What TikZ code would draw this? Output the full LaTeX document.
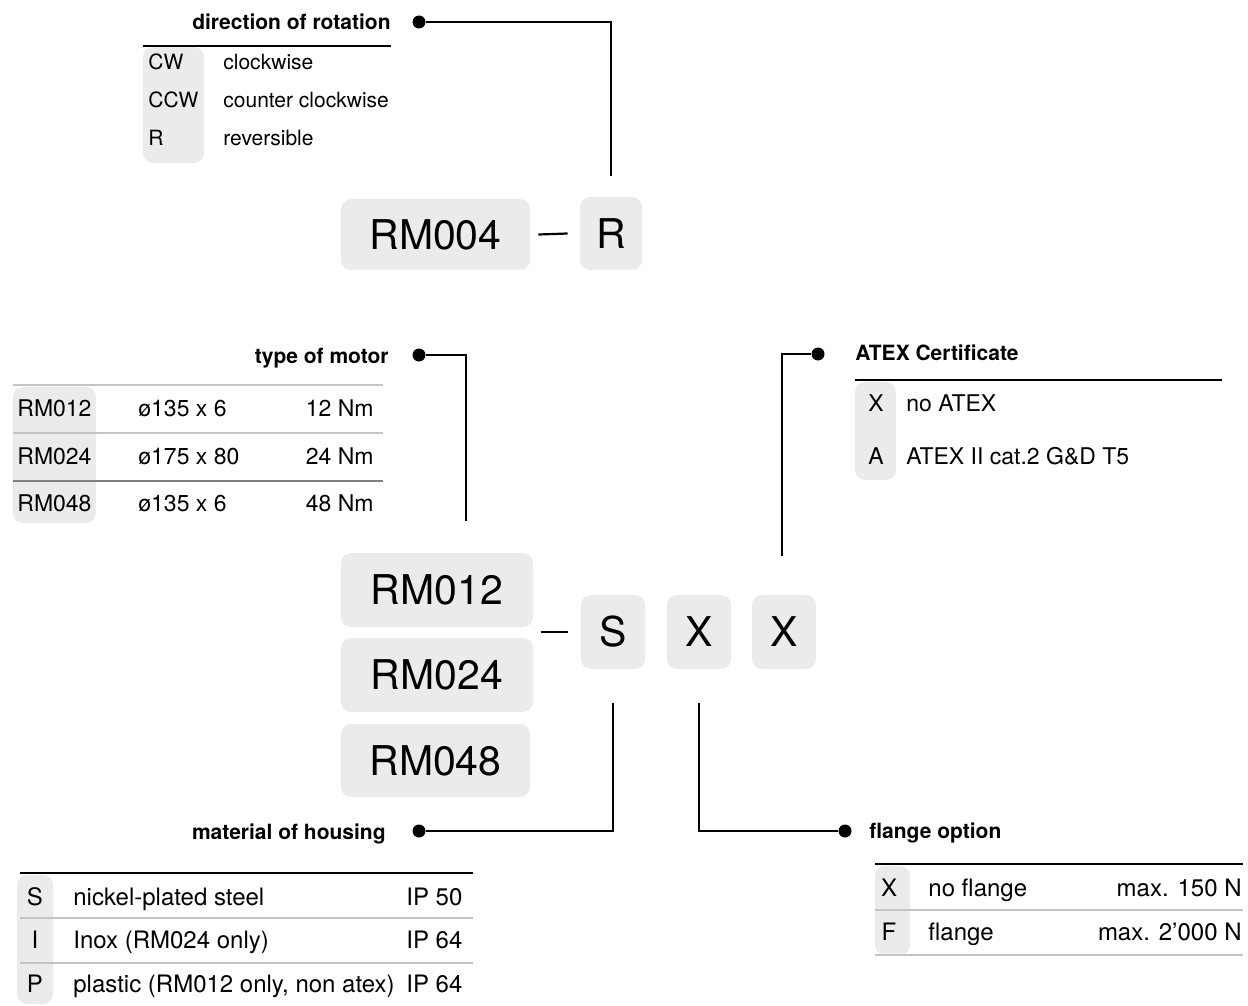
\documentclass[tikz,border=0pt]{standalone}
\usepackage{fontspec}
\setmainfont{TeX Gyre Heros}
\definecolor{grigio}{HTML}{EBEBEB}
\definecolor{riga}{HTML}{C4C4C4}

\begin{document}
\begin{tikzpicture}[x=0.5pt, y=-0.5pt]
  % Stili comuni
  \tikzset{
    casella/.style={fill=grigio, rounded corners=5pt, minimum height=37pt, inner sep=0pt, font=\fontsize{20.5}{24}\selectfont},
    titolo/.style={inner sep=0pt, font=\fontsize{10.5}{12}\selectfont\bfseries},
    voce/.style={inner sep=0pt, font=\fontsize{#1}{#1}\selectfont},
    voce/.default=11.5,
    punto/.style={circle, fill=black, minimum size=6.5pt, inner sep=0pt},
    linea/.style={line width=1.35pt},
    sotto/.style={line width=0.75pt},
    leggera/.style={line width=0.7pt, draw=riga},
  }
  \useasboundingbox (0,0) rectangle (1248,1006);

  % Codice in alto
  \node[casella, minimum width=94.5pt, minimum height=35.5pt] (rm004) at (435.5,234.5) {RM004};
  \node[casella, minimum width=31pt, minimum height=36.5pt] (r) at (611,233.5) {R};
  \draw[line width=1.1pt] ([xshift=4pt]rm004.east) -- ([xshift=-6pt]r.west);

  % Senso di rotazione
  \fill[grigio, rounded corners=5pt] (143,47) rectangle (204,163);
  \draw[sotto] (143,46) -- (391,46);
  \node[titolo, anchor=base east] (tRot) at (391,30) {direction of rotation};
  \foreach \cod/\des [count=\i] in {CW/clockwise, CCW/counter clockwise, R/reversible} {
    \node[voce=10.5, anchor=base west] (rot-c\i) at (148,31.5+38*\i) {\cod};
    \node[voce=10.5, anchor=base west] (rot-d\i) at (223,31.5+38*\i) {\des};
  }
  \node[punto] (pRot) at (419,22) {};
  \draw[linea] (pRot) -| ([yshift=10.5pt]r.north);

  % Tipo di motore
  \fill[grigio, rounded corners=5pt] (13,387) rectangle (96,523);
  \foreach \yy in {385,433} \draw[leggera] (13,\yy) -- (383,\yy);
  \draw[leggera, draw=gray] (13,481) -- (383,481);
  \foreach \cod/\dim/\nm/\yb [count=\i] in {RM012/ø135 x 6/12 Nm/416, RM024/ø175 x 80/24 Nm/464, RM048/ø135 x 6/48 Nm/511} {
    \node[voce, anchor=base west] (mot-c\i) at (17,\yb) {\cod};
    \node[voce, anchor=base west] (mot-d\i) at (138,\yb) {\dim};
    \node[voce, anchor=base east] (mot-n\i) at (374,\yb) {\nm};
  }
  \node[titolo, anchor=base east] (tMot) at (389,363) {type of motor};
  \node[punto] (pMot) at (419,355) {};
  \coordinate (fMot) at (466,521);
  \draw[linea] (pMot) -| (fMot);

  % Codice principale
  \node[casella, minimum width=96pt] (rm012) at (437,590) {RM012};
  \node[casella, minimum width=96pt] (rm024) at (437,675) {RM024};
  \node[casella, minimum width=94.5pt, minimum height=36.5pt] (rm048) at (435.5,760.5) {RM048};
  \node[casella, minimum width=32pt] (s) at (613,632) {S};
  \node[casella, minimum width=32pt] (x1) at (699,632) {X};
  \node[casella, minimum width=32pt] (x2) at (784,632) {X};
  \draw[line width=1.1pt] ([xshift=-20pt]s.west) -- ([xshift=-6.5pt]s.west);

  % Certificato ATEX
  \node[punto] (pAtex) at (818,354) {};
  \coordinate (iAtex) at (782,556);
  \draw[linea] (iAtex) |- (pAtex);
  \node[titolo, anchor=base west] (tAtex) at (855,360.5) {ATEX Certificate};
  \fill[grigio, rounded corners=5pt] (855,382) rectangle (896,480);
  \draw[sotto] (855,380) -- (1222,380);
  \foreach \cod/\des/\yb [count=\i] in {X/no ATEX/411, A/ATEX II cat.2 G\&D T5/464} {
    \node[voce, anchor=base] (atex-c\i) at (876,\yb) {\cod};
    \node[voce, anchor=base west] (atex-d\i) at (906,\yb) {\des};
  }

  % Materiale della carcassa
  \node[punto] (pMat) at (419,831) {};
  \draw[linea] ([yshift=-17pt]s.south) |- (pMat);
  \node[titolo, anchor=base east] (tMat) at (386,839) {material of housing};
  \fill[grigio, rounded corners=5pt] (17,875) rectangle (53,1004);
  \draw[sotto] (20,873) -- (473,873);
  \foreach \yy in {918,963} \draw[leggera] (20,\yy) -- (473,\yy);
  \foreach \cod/\des/\ip/\yb [count=\i] in {S/nickel-plated steel/IP 50/905, I/Inox (RM024 only)/IP 64/948, P/{plastic (RM012 only, non atex)}/IP 64/992} {
    \node[voce=12, anchor=base] (mat-c\i) at (35,\yb) {\cod};
    \node[voce=12, anchor=base west] (mat-d\i) at (73,\yb) {\des};
    \node[voce=12, anchor=base west] (mat-p\i) at (406,\yb) {\ip};
  }

  % Flangia
  \node[punto] (pFl) at (845,831) {};
  \draw[linea] ([yshift=-17pt]x1.south) |- (pFl);
  \node[titolo, anchor=base west] (tFl) at (869,838) {flange option};
  \fill[grigio, rounded corners=5pt] (875,866) rectangle (910,955);
  \draw[sotto] (875,864) -- (1243,864);
  \foreach \yy in {910,955} \draw[leggera] (875,\yy) -- (1243,\yy);
  \foreach \cod/\des/\mx/\yb [count=\i] in {X/no flange/max. 150 N/896, F/flange/max. 2’000 N/940} {
    \node[voce=12, anchor=base] (fl-c\i) at (889,\yb) {\cod};
    \node[voce=12, anchor=base west] (fl-d\i) at (928,\yb) {\des};
    \node[voce=12, anchor=base east] (fl-m\i) at (1242,\yb) {\mx};
  }
\end{tikzpicture}
\end{document}
